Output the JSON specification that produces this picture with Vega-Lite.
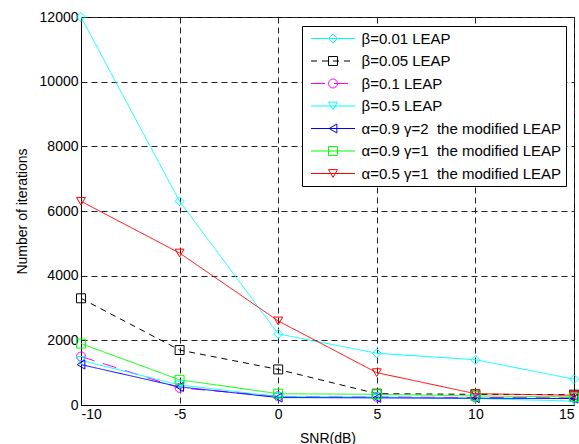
{
  "$schema": "https://vega.github.io/schema/vega-lite/v6.json",
  "width": 493,
  "height": 388,
  "autosize": {"type": "none"},
  "padding": {"left": 81, "top": 17, "right": 5, "bottom": 39},
  "background": "white",
  "config": {
    "font": "Liberation Sans",
    "view": {"stroke": "black", "strokeWidth": 1},
    "axis": {
      "labelFont": "Liberation Sans", "labelFontSize": 14, "labelColor": "black",
      "titleFont": "Liberation Sans", "titleFontSize": 14, "titleFontWeight": "normal", "titleColor": "black",
      "domainColor": "black", "grid": true, "gridColor": "#222222", "gridDash": [6, 4], "gridOpacity": 1, "ticks": false
    }
  },
  "data": {
    "values": [
      {"series": "β=0.01 LEAP", "snr": -10, "iterations": 12000},
      {"series": "β=0.01 LEAP", "snr": -5, "iterations": 6300},
      {"series": "β=0.01 LEAP", "snr": 0, "iterations": 2200},
      {"series": "β=0.01 LEAP", "snr": 5, "iterations": 1600},
      {"series": "β=0.01 LEAP", "snr": 10, "iterations": 1400},
      {"series": "β=0.01 LEAP", "snr": 15, "iterations": 800},
      {"series": "β=0.05 LEAP", "snr": -10, "iterations": 3300},
      {"series": "β=0.05 LEAP", "snr": -5, "iterations": 1700},
      {"series": "β=0.05 LEAP", "snr": 0, "iterations": 1100},
      {"series": "β=0.05 LEAP", "snr": 5, "iterations": 350},
      {"series": "β=0.05 LEAP", "snr": 10, "iterations": 330},
      {"series": "β=0.05 LEAP", "snr": 15, "iterations": 320},
      {"series": "β=0.1 LEAP", "snr": -10, "iterations": 1500},
      {"series": "β=0.1 LEAP", "snr": -5, "iterations": 530},
      {"series": "β=0.1 LEAP", "snr": 0, "iterations": 270},
      {"series": "β=0.1 LEAP", "snr": 5, "iterations": 250},
      {"series": "β=0.1 LEAP", "snr": 10, "iterations": 230},
      {"series": "β=0.1 LEAP", "snr": 15, "iterations": 220},
      {"series": "β=0.5 LEAP", "snr": -10, "iterations": 1380},
      {"series": "β=0.5 LEAP", "snr": -5, "iterations": 620},
      {"series": "β=0.5 LEAP", "snr": 0, "iterations": 260},
      {"series": "β=0.5 LEAP", "snr": 5, "iterations": 250},
      {"series": "β=0.5 LEAP", "snr": 10, "iterations": 200},
      {"series": "β=0.5 LEAP", "snr": 15, "iterations": 120},
      {"series": "α=0.9 γ=2\u00a0 the modified LEAP", "snr": -10, "iterations": 1250},
      {"series": "α=0.9 γ=2\u00a0 the modified LEAP", "snr": -5, "iterations": 560},
      {"series": "α=0.9 γ=2\u00a0 the modified LEAP", "snr": 0, "iterations": 230},
      {"series": "α=0.9 γ=2\u00a0 the modified LEAP", "snr": 5, "iterations": 220},
      {"series": "α=0.9 γ=2\u00a0 the modified LEAP", "snr": 10, "iterations": 210},
      {"series": "α=0.9 γ=2\u00a0 the modified LEAP", "snr": 15, "iterations": 200},
      {"series": "α=0.9 γ=1\u00a0 the modified LEAP", "snr": -10, "iterations": 1900},
      {"series": "α=0.9 γ=1\u00a0 the modified LEAP", "snr": -5, "iterations": 780},
      {"series": "α=0.9 γ=1\u00a0 the modified LEAP", "snr": 0, "iterations": 350},
      {"series": "α=0.9 γ=1\u00a0 the modified LEAP", "snr": 5, "iterations": 330},
      {"series": "α=0.9 γ=1\u00a0 the modified LEAP", "snr": 10, "iterations": 280},
      {"series": "α=0.9 γ=1\u00a0 the modified LEAP", "snr": 15, "iterations": 250},
      {"series": "α=0.5 γ=1\u00a0 the modified LEAP", "snr": -10, "iterations": 6300},
      {"series": "α=0.5 γ=1\u00a0 the modified LEAP", "snr": -5, "iterations": 4700},
      {"series": "α=0.5 γ=1\u00a0 the modified LEAP", "snr": 0, "iterations": 2600},
      {"series": "α=0.5 γ=1\u00a0 the modified LEAP", "snr": 5, "iterations": 1000},
      {"series": "α=0.5 γ=1\u00a0 the modified LEAP", "snr": 10, "iterations": 350},
      {"series": "α=0.5 γ=1\u00a0 the modified LEAP", "snr": 15, "iterations": 300}
    ]
  },
  "encoding": {
    "x": {
      "field": "snr", "type": "quantitative",
      "scale": {"domain": [-10, 15], "nice": false, "zero": false},
      "axis": {"values": [-10, -5, 0, 5, 10, 15], "labelExpr": "toString(datum.value)", "title": "SNR(dB)", "labelPadding": 2, "titlePadding": 10}
    },
    "y": {
      "field": "iterations", "type": "quantitative",
      "scale": {"domain": [0, 12000], "nice": false},
      "axis": {"values": [0, 2000, 4000, 6000, 8000, 10000, 12000], "format": "d", "title": "Number of iterations", "labelPadding": 3, "titlePadding": 10}
    }
  },
  "layer": [
    {
      "mark": {"type": "line", "strokeWidth": 1},
      "encoding": {
        "color": {
          "field": "series", "type": "nominal",
          "scale": {
            "domain": ["β=0.01 LEAP", "β=0.05 LEAP", "β=0.1 LEAP", "β=0.5 LEAP", "α=0.9 γ=2\u00a0 the modified LEAP", "α=0.9 γ=1\u00a0 the modified LEAP", "α=0.5 γ=1\u00a0 the modified LEAP"],
            "range": ["#00FFFF", "#000000", "#FF00FF", "#00FFFF", "#0000FF", "#00FF00", "#FF0000"]
          },
          "legend": {
            "title": null, "orient": "none", "legendX": 221, "legendY": 9, "zindex": 0,
            "symbolType": "stroke", "symbolSize": 1936, "symbolStrokeWidth": 1, "symbolOffset": 4,
            "clipHeight": 16, "rowPadding": 6.5, "padding": 4.5, "labelOffset": 6,
            "labelFont": "Liberation Sans", "labelFontSize": 15, "labelColor": "black", "labelLimit": 400,
            "strokeColor": "black", "fillColor": "white"
          }
        },
        "strokeDash": {
          "field": "series", "type": "nominal",
          "scale": {
            "domain": ["β=0.01 LEAP", "β=0.05 LEAP", "β=0.1 LEAP", "β=0.5 LEAP", "α=0.9 γ=2\u00a0 the modified LEAP", "α=0.9 γ=1\u00a0 the modified LEAP", "α=0.5 γ=1\u00a0 the modified LEAP"],
            "range": [[1, 0], [6, 5], [14, 9], [1, 0], [1, 0], [1, 0], [1, 0]]
          },
          "legend": {
            "title": null, "orient": "none", "legendX": 221, "legendY": 9, "zindex": 0,
            "symbolType": "stroke", "symbolSize": 1936, "symbolStrokeWidth": 1, "symbolOffset": 4,
            "clipHeight": 16, "rowPadding": 6.5, "padding": 4.5, "labelOffset": 6,
            "labelFont": "Liberation Sans", "labelFontSize": 15, "labelColor": "black", "labelLimit": 400,
            "strokeColor": "black", "fillColor": "white"
          }
        }
      }
    },
    {
      "mark": {"type": "point", "filled": false, "size": 80, "strokeWidth": 1, "opacity": 1},
      "encoding": {
        "stroke": {
          "field": "series", "type": "nominal",
          "scale": {
            "domain": ["β=0.01 LEAP", "β=0.05 LEAP", "β=0.1 LEAP", "β=0.5 LEAP", "α=0.9 γ=2\u00a0 the modified LEAP", "α=0.9 γ=1\u00a0 the modified LEAP", "α=0.5 γ=1\u00a0 the modified LEAP"],
            "range": ["#00FFFF", "#000000", "#FF00FF", "#00FFFF", "#0000FF", "#00FF00", "#FF0000"]
          },
          "legend": {
            "title": null, "orient": "none", "legendX": 242.5, "legendY": 9, "zindex": 1,
            "symbolSize": 80, "symbolStrokeWidth": 1, "symbolOffset": 0, "symbolFillColor": "transparent",
            "clipHeight": 16, "rowPadding": 6.5, "padding": 4.5, "labelExpr": "''"
          }
        },
        "shape": {
          "field": "series", "type": "nominal",
          "scale": {
            "domain": ["β=0.01 LEAP", "β=0.05 LEAP", "β=0.1 LEAP", "β=0.5 LEAP", "α=0.9 γ=2\u00a0 the modified LEAP", "α=0.9 γ=1\u00a0 the modified LEAP", "α=0.5 γ=1\u00a0 the modified LEAP"],
            "range": ["diamond", "square", "circle", "triangle-down", "triangle-left", "square", "triangle-down"]
          },
          "legend": {
            "title": null, "orient": "none", "legendX": 242.5, "legendY": 9, "zindex": 1,
            "symbolSize": 80, "symbolStrokeWidth": 1, "symbolOffset": 0, "symbolFillColor": "transparent",
            "clipHeight": 16, "rowPadding": 6.5, "padding": 4.5, "labelExpr": "''"
          }
        }
      }
    }
  ],
  "resolve": {"legend": {"stroke": "independent", "shape": "independent"}}
}
